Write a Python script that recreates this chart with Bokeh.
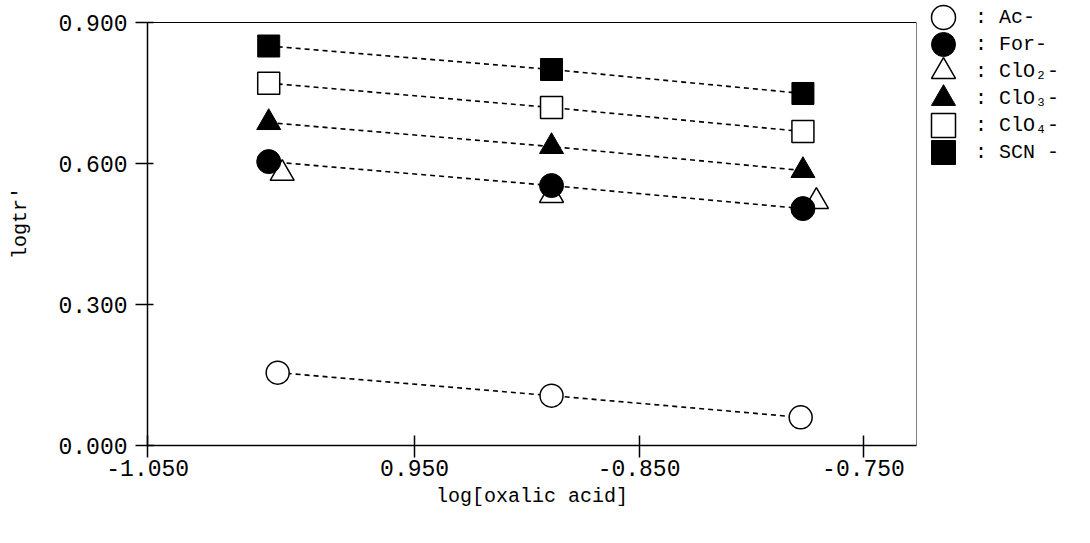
from bokeh.plotting import figure
from bokeh.layouts import row
from bokeh.models import (Range1d, FixedTicker, NumeralTickFormatter, BoxAnnotation,
                          CustomJSTickFormatter, Legend, LegendItem)
from bokeh.embed import file_html
from bokeh.resources import INLINE

# ---- data ----
x_oxalic = [-1.015, -0.889, -0.777]
x_ac = [-1.011, -0.889, -0.778]
x_clo2 = [-1.009, -0.889, -0.771]

y_ac = [0.155, 0.106, 0.060]
y_for = [0.604, 0.553, 0.504]
y_clo2 = [0.579, 0.532, 0.519]
y_clo3 = [0.687, 0.636, 0.585]
y_clo4 = [0.771, 0.719, 0.668]
y_scn = [0.850, 0.800, 0.749]

legend_labels = [": Ac-", ": For-", ": ClO\u2082-", ": ClO\u2083-", ": ClO\u2084-", ": SCN -"]

x_tick_values = [-1.0689, -0.95, -0.85, -0.75]
x_tick_labels = ["-1.050", "0.950", "-0.850", "-0.750"]
y_tick_values = [0.0, 0.3, 0.6, 0.9]

x_title = "log[oxalic acid]"
y_title = "logtr'"

# axis extent of the boxed plot area
X_LO, X_HI = -1.069, -0.7264
Y_LO, Y_HI = 0.0, 0.9

FONT = "Liberation Mono"

W, H = 1090, 543
FR_L, FR_T, FR_R, FR_B = 147, 22, 916, 445
PW = FR_R + 4          # width of the main figure
# frame starts at the very top so the legend rows above the box are not clipped
y_end = Y_HI * FR_B / (FR_B - FR_T)
p = figure(width=PW, height=H, output_backend="svg", toolbar_location=None,
           x_range=Range1d(X_LO, X_HI), y_range=Range1d(Y_LO, y_end),
           min_border_left=FR_L, min_border_top=0, min_border_right=PW - FR_R,
           min_border_bottom=H - FR_B, x_axis_label=x_title, y_axis_label=y_title)

p.grid.visible = False
p.outline_line_color = None
p.background_fill_color = "white"
p.border_fill_color = "white"
p.add_layout(BoxAnnotation(left=X_LO, right=X_HI, bottom=Y_LO, top=Y_HI,
                           fill_alpha=0, line_color="black", line_alpha=1,
                           line_width=1))

p.xaxis.ticker = FixedTicker(ticks=x_tick_values)
p.xaxis.formatter = CustomJSTickFormatter(
    args=dict(vals=x_tick_values, labs=x_tick_labels),
    code="const i = vals.findIndex((v) => Math.abs(v - tick) < 1e-9); return i >= 0 ? labs[i] : String(tick);")
p.yaxis.ticker = FixedTicker(ticks=y_tick_values)
p.yaxis.formatter = NumeralTickFormatter(format="0.000")
p.yaxis.bounds = (Y_LO, Y_HI)

for ax in (p.xaxis[0], p.yaxis[0]):
    ax.axis_line_color = "black"
    ax.axis_line_width = 1.5
    ax.major_tick_line_color = "black"
    ax.major_tick_line_width = 1.5
    ax.minor_tick_line_color = None
    ax.major_label_text_font = FONT
    ax.major_label_text_font_size = "23px"
    ax.major_label_text_color = "black"
    ax.axis_label_text_font = FONT
    ax.axis_label_text_font_size = "20px"
    ax.axis_label_text_font_style = "normal"
    ax.axis_label_text_color = "black"

p.xaxis.major_tick_in = 10
p.xaxis.major_tick_out = 12
p.xaxis.major_label_standoff = 2
p.xaxis.axis_label_standoff = 6
p.yaxis.major_tick_in = 6
p.yaxis.major_tick_out = 12
p.yaxis.major_label_standoff = 8
p.yaxis.axis_label_standoff = 23

dash = "5 4"
for xs, ys in ((x_oxalic, y_scn), (x_oxalic, y_clo4), (x_oxalic, y_clo3),
               (x_oxalic, y_for), (x_ac, y_ac)):
    p.line(xs, ys, line_dash=dash, line_width=1.6, line_color="black")

styles = {
    "ac":   dict(marker="circle", fill_color="white", line_width=1.5),
    "for":  dict(marker="circle", fill_color="black", line_width=1.0),
    "clo2": dict(marker="triangle", fill_color="white", line_width=1.5),
    "clo3": dict(marker="triangle", fill_color="black", line_width=1.0),
    "clo4": dict(marker="square", fill_color="white", line_width=1.5),
    "scn":  dict(marker="square", fill_color="black", line_width=1.0),
}
series = {
    "ac": (x_ac, y_ac, 23), "for": (x_oxalic, y_for, 24), "clo2": (x_clo2, y_clo2, 24),
    "clo3": (x_oxalic, y_clo3, 24), "clo4": (x_oxalic, y_clo4, 22), "scn": (x_oxalic, y_scn, 22),
}
# drawing order: open triangles under the filled circles
for key in ("clo2", "for", "clo3", "clo4", "scn", "ac"):
    xs, ys, sz = series[key]
    p.scatter(xs, ys, size=sz, line_color="black", **styles[key])

# ---- legend panel (separate narrow figure to the right of the box) ----
LW = W - PW
q = figure(width=LW, height=H, output_backend="svg", toolbar_location=None,
           x_range=Range1d(0, 1), y_range=Range1d(0, 1),
           x_axis_type=None, y_axis_type=None,
           min_border_left=0, min_border_right=0, min_border_top=0,
           min_border_bottom=H - FR_B)
q.grid.visible = False
q.outline_line_color = None
q.background_fill_color = "white"
q.border_fill_color = "white"

BOX = 60              # glyph box (legend markers are drawn at 0.4 * box)
ROW0, PITCH = 17, 27  # centre of first row and row pitch, px from top
order = ["ac", "for", "clo2", "clo3", "clo4", "scn"]
for i, (key, lab) in enumerate(zip(order, legend_labels)):
    xs, ys, _ = series[key]
    proxy = q.scatter(xs, ys, size=1, line_color="black", **styles[key])  # off-range proxy
    centre = ROW0 + PITCH * i
    lg = Legend(items=[LegendItem(label=lab, renderers=[proxy])],
                location=(913 - PW, FR_B - (centre + BOX // 2)),
                glyph_width=BOX, glyph_height=BOX, label_height=BOX,
                spacing=0, padding=0, margin=0, label_standoff=2,
                label_text_font=FONT, label_text_font_size="20px",
                label_text_color="black", border_line_alpha=0,
                background_fill_alpha=0)
    q.add_layout(lg)

layout = row(p, q, spacing=0)
open("out.html", "w").write(file_html(layout, INLINE))
